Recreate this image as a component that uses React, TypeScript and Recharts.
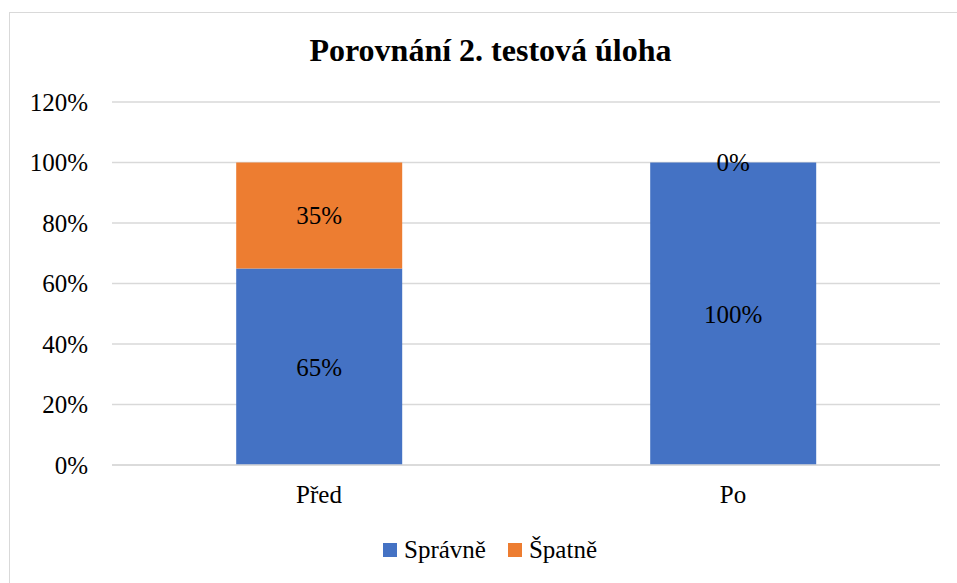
import { BarChart, Bar, XAxis, YAxis, CartesianGrid, Legend, LabelList } from 'recharts'

const categories = ['Před', 'Po']
const spravne = [0.65, 1.0]
const spatne = [0.35, 0]
const yTicks = [0, 0.2, 0.4, 0.6, 0.8, 1.0, 1.2]

const data = categories.map((name, i) => ({ name, spravne: spravne[i], spatne: spatne[i] }))

const FONT = "'Liberation Serif', 'Times New Roman', serif"
const pct = (v: number) => `${Math.round(v * 100)}%`

function ChartLegend({ payload }: any) {
  return (
    <div style={{ display: 'flex', justifyContent: 'center', alignItems: 'center', fontFamily: FONT, fontSize: 25, color: '#000' }}>
      {(payload || []).map((p: any, i: number) => (
        <div key={i} style={{ display: 'flex', alignItems: 'center', marginLeft: i > 0 ? 22 : 0 }}>
          <span style={{ display: 'inline-block', width: 14, height: 14, background: p.color, marginRight: 7 }} />
          <span style={{ lineHeight: '28px' }}>{p.value}</span>
        </div>
      ))}
    </div>
  )
}

// label for the Špatně segment, placed from the Správně bar so a 0 value still shows
function SpatneLabel({ x, y, width, height, index }: any) {
  const base = spravne[index]
  const val = spatne[index]
  const unit = base ? height / base : 0
  return (
    <text x={x + width / 2} y={y - (val * unit) / 2} textAnchor="middle" dominantBaseline="central" fill="#000" fontSize={25} fontFamily={FONT}>
      {pct(val)}
    </text>
  )
}

export default function App() {
  return (
    <div style={{ position: 'absolute', left: 0, top: 0, width: 957, height: 583, overflow: 'hidden', background: '#fff', fontFamily: FONT }}>
      <div style={{ position: 'absolute', left: 9, top: 12, width: 960, height: 600, border: '1px solid #D9D9D9' }} />
      <div style={{ position: 'absolute', left: 12, top: 34, width: 957, textAlign: 'center', fontWeight: 'bold', fontSize: 32, lineHeight: '32px', color: '#000' }}>
        Porovnání 2. testová úloha
      </div>
      <div style={{ position: 'absolute', left: 0, top: 0 }}>
        <BarChart width={957} height={583} data={data} margin={{ top: 102, right: 17, left: 0, bottom: 88 }} barCategoryGap="30%">
          <CartesianGrid vertical={false} stroke="#D9D9D9" strokeWidth={1.5} />
          <XAxis
            dataKey="name"
            axisLine={{ stroke: '#D9D9D9', strokeWidth: 1.5 }}
            tickLine={false}
            tickMargin={14}
            tick={{ fill: '#000', fontSize: 25, fontFamily: FONT }}
          />
          <YAxis
            domain={[0, 1.2]}
            ticks={yTicks}
            tickFormatter={pct}
            axisLine={false}
            tickLine={false}
            width={112}
            tickMargin={18}
            tick={{ fill: '#000', fontSize: 25, fontFamily: FONT }}
          />
          <Legend
            layout="horizontal"
            align="center"
            verticalAlign="middle"
            content={<ChartLegend />}
            wrapperStyle={{ top: 536, left: 26, width: 928 }}
          />
          <Bar dataKey="spravne" name="Správně" stackId="a" fill="#4472C4" isAnimationActive={false}>
            <LabelList dataKey="spravne" position="center" formatter={(v: any) => pct(Number(v))} fill="#000" fontSize={25} fontFamily={FONT} />
            <LabelList dataKey="spatne" content={<SpatneLabel />} />
          </Bar>
          <Bar dataKey="spatne" name="Špatně" stackId="a" fill="#ED7D31" isAnimationActive={false} />
        </BarChart>
      </div>
    </div>
  )
}
